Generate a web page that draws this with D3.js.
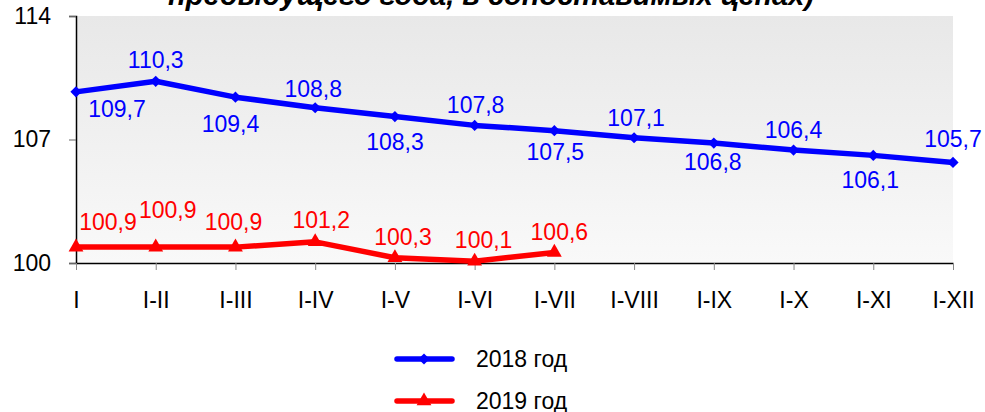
<!DOCTYPE html>
<html>
<head>
<meta charset="utf-8">
<style>
  body { margin: 0; background: #fff; }
  svg { display: block; font-family: Arial, "Liberation Sans", sans-serif; }
</style>
</head>
<body>
<div id="chart"></div>
<script src="https://d3js.org/d3.v7.min.js"></script>
<script>
// data
var categories = ["I", "I-II", "I-III", "I-IV", "I-V", "I-VI", "I-VII", "I-VIII", "I-IX", "I-X", "I-XI", "I-XII"];
var values2018 = [109.7, 110.3, 109.4, 108.8, 108.3, 107.8, 107.5, 107.1, 106.8, 106.4, 106.1, 105.7];
var values2019 = [100.9, 100.9, 100.9, 101.2, 100.3, 100.1, 100.6];
var yTicks = [100, 107, 114];
var seriesNames = ["2018 год", "2019 год"];
var titleLine = "предыдущего года, в сопоставимых ценах)";

// label placement (dx, dy from the point), set by hand like in the original
var offs2018 = [[41, 25], [0, -13], [-5, 35], [-2, -11], [0, 33], [1, -12], [1, 29], [2, -12], [-1, 27], [0, -12], [-3, 33], [0, -15]];
var offs2019 = [[32, -17], [12, -29], [-2, -17], [6, -14], [8, -13], [9, -13], [5, -12]];

var W = 985, H = 412;
var plot = { left: 76, right: 953, top: 16, bottom: 263 };

var svg = d3.select("#chart").append("svg")
  .attr("width", W)
  .attr("height", H);

var x = d3.scalePoint()
  .domain(categories)
  .range([plot.left, plot.right]);

var y = d3.scaleLinear()
  .domain([100, 114])
  .range([plot.bottom, plot.top]);

// plot background gradient
var grad = svg.append("defs").append("linearGradient")
  .attr("id", "bg")
  .attr("x1", 0).attr("y1", 0).attr("x2", 0).attr("y2", 1);
grad.append("stop").attr("offset", "0%").attr("stop-color", "#e8e8e8");
grad.append("stop").attr("offset", "100%").attr("stop-color", "#f9f9f9");

svg.append("rect")
  .attr("x", plot.left)
  .attr("y", plot.top)
  .attr("width", plot.right - plot.left)
  .attr("height", plot.bottom - plot.top)
  .attr("fill", "url(#bg)");

// title (only the last line is visible)
svg.append("text")
  .attr("x", 491)
  .attr("y", 5)
  .attr("text-anchor", "middle")
  .style("font-size", "29px")
  .style("font-style", "italic")
  .style("font-weight", "bold")
  .text(titleLine);

// y axis
var yAxis = svg.append("g")
  .attr("transform", "translate(" + plot.left + ",0)")
  .call(d3.axisLeft(y).tickValues(yTicks).tickSize(7).tickPadding(18).tickFormat(d3.format("d")));
yAxis.select(".domain").attr("stroke", "#000").attr("stroke-width", 1.5);
yAxis.selectAll(".tick line").attr("stroke", "#666");
yAxis.selectAll(".tick text")
  .style("font-size", "23px")
  .attr("fill", "#000")
  .attr("font-family", null);

// x axis
var xAxis = svg.append("g")
  .attr("transform", "translate(0," + plot.bottom + ")")
  .call(d3.axisBottom(x).tickSizeInner(7).tickSizeOuter(0).tickPadding(22));
xAxis.select(".domain").attr("stroke", "#000").attr("stroke-width", 1.5);
xAxis.selectAll(".tick line").attr("stroke", "#888");
xAxis.selectAll(".tick text")
  .style("font-size", "23px")
  .attr("fill", "#000")
  .attr("font-family", null);

var line = d3.line()
  .x(function(d, i) { return x(categories[i]); })
  .y(function(d) { return y(d); });

// 2018
svg.append("path")
  .datum(values2018)
  .attr("fill", "none")
  .attr("stroke", "#0000ff")
  .attr("stroke-width", 5.5)
  .attr("stroke-linejoin", "round")
  .attr("d", line);

var diamond = d3.symbol().type(d3.symbolDiamond2).size(80);
svg.selectAll(".m18")
  .data(values2018)
  .enter().append("path")
  .attr("class", "m18")
  .attr("d", diamond)
  .attr("transform", function(d, i) { return "translate(" + x(categories[i]) + "," + y(d) + ")"; })
  .attr("fill", "#0000ff");

svg.selectAll(".l18")
  .data(values2018)
  .enter().append("text")
  .attr("class", "l18")
  .attr("x", function(d, i) { return x(categories[i]) + offs2018[i][0]; })
  .attr("y", function(d, i) { return y(d) + offs2018[i][1]; })
  .attr("text-anchor", "middle")
  .attr("fill", "#0000ff")
  .style("font-size", "23px")
  .text(function(d) { return String(d).replace(".", ","); });

// 2019
svg.append("path")
  .datum(values2019)
  .attr("fill", "none")
  .attr("stroke", "#ff0000")
  .attr("stroke-width", 5.5)
  .attr("stroke-linejoin", "round")
  .attr("d", line);

var tri = d3.symbol().type(d3.symbolTriangle).size(95);
svg.selectAll(".m19")
  .data(values2019)
  .enter().append("path")
  .attr("class", "m19")
  .attr("d", tri)
  .attr("transform", function(d, i) { return "translate(" + x(categories[i]) + "," + y(d) + ")"; })
  .attr("fill", "#ff0000");

svg.selectAll(".l19")
  .data(values2019)
  .enter().append("text")
  .attr("class", "l19")
  .attr("x", function(d, i) { return x(categories[i]) + offs2019[i][0]; })
  .attr("y", function(d, i) { return y(d) + offs2019[i][1]; })
  .attr("text-anchor", "middle")
  .attr("fill", "#ff0000")
  .style("font-size", "23px")
  .text(function(d) { return String(d).replace(".", ","); });

// legend
var legend = [
  { name: seriesNames[0], color: "#0000ff", sym: diamond, y: 359 },
  { name: seriesNames[1], color: "#ff0000", sym: tri, y: 401 }
];
var lg = svg.selectAll(".lg")
  .data(legend)
  .enter().append("g")
  .attr("class", "lg")
  .attr("transform", function(d) { return "translate(0," + d.y + ")"; });
lg.append("line")
  .attr("x1", 397).attr("x2", 452)
  .attr("stroke", function(d) { return d.color; })
  .attr("stroke-width", 5.5)
  .attr("stroke-linecap", "round");
lg.append("path")
  .attr("d", function(d) { return d.sym(); })
  .attr("transform", "translate(424,0)")
  .attr("fill", function(d) { return d.color; });
lg.append("text")
  .attr("x", 476)
  .attr("y", 8)
  .style("font-size", "23px")
  .text(function(d) { return d.name; });
</script>
</body>
</html>
